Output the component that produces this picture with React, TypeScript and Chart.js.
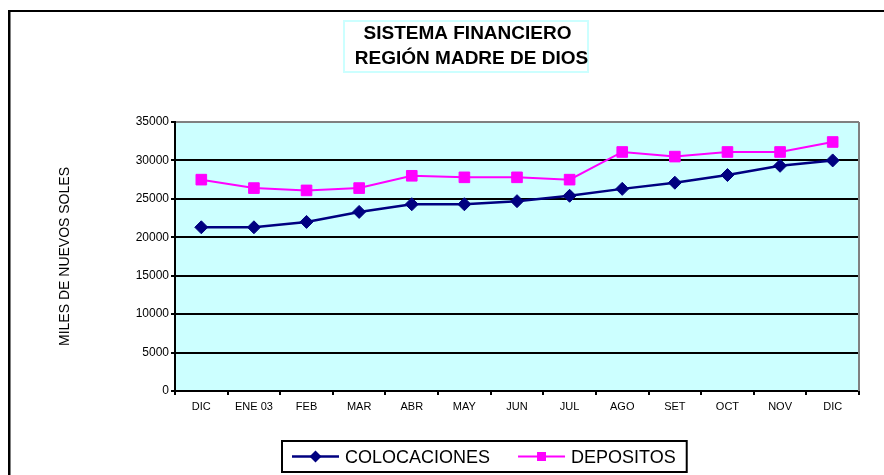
import React, { useEffect, useRef } from 'react';
import { Chart, registerables } from 'chart.js';

Chart.register(...registerables);

const categories = ['DIC', 'ENE 03', 'FEB', 'MAR', 'ABR', 'MAY', 'JUN', 'JUL', 'AGO', 'SET', 'OCT', 'NOV', 'DIC'];
const colocaciones = [21300, 21300, 22000, 23300, 24300, 24300, 24700, 25400, 26300, 27100, 28100, 29300, 30000];
const depositos = [27500, 26400, 26100, 26400, 28000, 27800, 27800, 27500, 31100, 30500, 31100, 31100, 32400];
const yTicks = [0, 5000, 10000, 15000, 20000, 25000, 30000, 35000];
const seriesNames = ['COLOCACIONES', 'DEPOSITOS'];
const titleLines = ['SISTEMA FINANCIERO', 'REGIÓN MADRE DE DIOS'];
const yAxisTitle = 'MILES DE NUEVOS SOLES';

const FONT = '"Liberation Sans", Arial, Helvetica, sans-serif';
const NAVY = '#000080';
const MAGENTA = '#FF00FF';

function drawMarker(ctx: CanvasRenderingContext2D, style: string, x: number, y: number, r: number, color: string) {
  ctx.save();
  ctx.fillStyle = color;
  ctx.beginPath();
  if (style === 'rectRot') {
    ctx.moveTo(x - r, y);
    ctx.lineTo(x, y - r);
    ctx.lineTo(x + r, y);
    ctx.lineTo(x, y + r);
    ctx.closePath();
  } else {
    ctx.rect(x - r, y - r, 2 * r, 2 * r);
  }
  ctx.fill();
  ctx.restore();
}

const decorPlugin = {
  id: 'decor',
  beforeDraw(chart: any) {
    const { ctx, chartArea: a } = chart;
    ctx.save();
    ctx.fillStyle = '#FFFFFF';
    ctx.fillRect(0, 0, chart.width, chart.height);
    ctx.fillStyle = '#CCFFFF';
    ctx.fillRect(a.left, a.top, a.right - a.left, a.bottom - a.top);
    ctx.restore();
  },
  beforeDatasetsDraw(chart: any) {
    const { ctx, chartArea: a } = chart;
    ctx.save();
    ctx.strokeStyle = '#808080';
    ctx.lineWidth = 2;
    ctx.beginPath();
    ctx.moveTo(a.right, a.top);
    ctx.lineTo(a.right, a.bottom);
    ctx.stroke();
    ctx.restore();
  },
  afterDraw(chart: any) {
    const { ctx } = chart;
    ctx.save();
    // outer frame (left and top edges visible)
    ctx.fillStyle = '#000';
    ctx.fillRect(8, 10, 2.5, chart.height);
    ctx.fillRect(8, 10, chart.width, 2);

    // title box
    ctx.fillStyle = '#FFFFFF';
    ctx.fillRect(343, 20, 246, 53);
    ctx.strokeStyle = '#CCFFFF';
    ctx.lineWidth = 2;
    ctx.strokeRect(344, 21, 244, 51);
    ctx.fillStyle = '#000';
    ctx.font = 'bold 19px ' + FONT;
    ctx.textAlign = 'center';
    ctx.textBaseline = 'middle';
    ctx.fillText(titleLines[0], 467.5, 34);
    ctx.fillText(titleLines[1], 471.5, 58.5);

    // legend
    ctx.font = '18px ' + FONT;
    ctx.textAlign = 'left';
    const boxLeft = 281;
    const boxTop = 440;
    const boxBottom = 473;
    const cy = 456.5;
    let x = boxLeft + 11;
    const ds = chart.data.datasets;
    for (let i = 0; i < ds.length; i++) {
      const d = ds[i];
      ctx.strokeStyle = d.borderColor;
      ctx.lineWidth = d.borderWidth;
      ctx.beginPath();
      ctx.moveTo(x, cy);
      ctx.lineTo(x + 47, cy);
      ctx.stroke();
      drawMarker(ctx, d.pointStyle, x + 23.5, cy, d.pointStyle === 'rectRot' ? 6 : 4.5, d.pointBackgroundColor);
      ctx.fillStyle = '#000';
      ctx.fillText(d.label, x + 53, cy + 2);
      x = x + 53 + ctx.measureText(d.label).width;
      if (i < ds.length - 1) x += 28;
    }
    const boxRight = x + 12;
    ctx.strokeStyle = '#000';
    ctx.lineWidth = 2;
    ctx.strokeRect(boxLeft + 1, boxTop + 1, boxRight - boxLeft - 2, boxBottom - boxTop - 2);
    ctx.restore();
  },
};

export default function App() {
  const canvasRef = useRef<HTMLCanvasElement | null>(null);

  useEffect(() => {
    const canvas = canvasRef.current;
    if (!canvas) return;
    const chart = new Chart(canvas, {
      type: 'line',
      data: {
        labels: categories,
        datasets: [
          {
            label: seriesNames[0],
            data: colocaciones,
            borderColor: NAVY,
            backgroundColor: NAVY,
            borderWidth: 2.5,
            pointStyle: 'rectRot',
            pointRadius: 6.5,
            pointBorderWidth: 1,
            pointBackgroundColor: NAVY,
            pointBorderColor: NAVY,
            tension: 0,
            fill: false,
          },
          {
            label: seriesNames[1],
            data: depositos,
            borderColor: MAGENTA,
            backgroundColor: MAGENTA,
            borderWidth: 2,
            pointStyle: 'rect',
            pointRadius: 7.5,
            pointBorderWidth: 1,
            pointBackgroundColor: MAGENTA,
            pointBorderColor: MAGENTA,
            tension: 0,
            fill: false,
          },
        ],
      },
      options: {
        responsive: false,
        animation: false,
        devicePixelRatio: 1,
        layout: { padding: { left: 0, right: 25, top: 122, bottom: 54 } },
        plugins: {
          legend: { display: false },
          title: { display: false },
          tooltip: { enabled: false },
        },
        scales: {
          x: {
            type: 'category',
            offset: true,
            afterFit: (s: any) => { s.height = 30; },
            grid: {
              display: true,
              offset: true,
              drawOnChartArea: false,
              drawTicks: true,
              tickLength: 4,
              color: '#000',
              lineWidth: 2,
            },
            border: { display: true, color: '#000', width: 2 },
            ticks: {
              color: '#000',
              font: { size: 11, family: FONT },
              padding: 5,
              maxRotation: 0,
              autoSkip: false,
            },
          },
          y: {
            min: 0,
            max: 35000,
            afterFit: (s: any) => { s.width = 175; },
            afterBuildTicks: (s: any) => { s.ticks = yTicks.map((v) => ({ value: v })); },
            grid: {
              color: (c: any) => (c.tick && c.tick.value === 35000 ? '#808080' : '#000'),
              tickColor: '#000',
              lineWidth: 2,
              tickLength: 4,
            },
            border: { display: true, color: '#000', width: 2 },
            ticks: {
              color: '#000',
              font: { size: 12, family: FONT },
              padding: 2,
              callback: (v: any) => String(v),
            },
            title: {
              display: true,
              text: yAxisTitle,
              color: '#000',
              font: { size: 14, family: FONT },
              padding: { top: 56.6, bottom: 0 },
            },
          },
        },
      },
      plugins: [decorPlugin],
    });
    return () => chart.destroy();
  }, []);

  return (
    <div style={{ position: 'fixed', left: 0, top: 0, width: 884, height: 475, overflow: 'hidden' }}>
      <canvas ref={canvasRef} width={884} height={475} style={{ display: 'block' }} />
    </div>
  );
}
